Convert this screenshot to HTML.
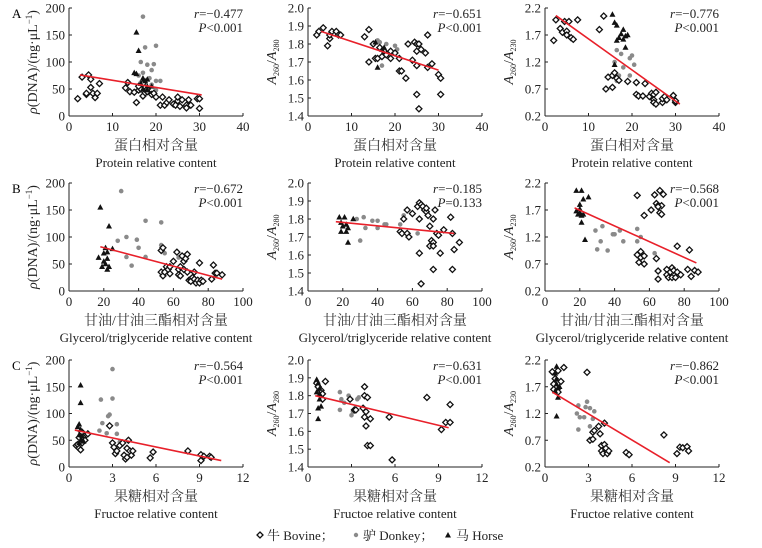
<!DOCTYPE html>
<html><head><meta charset="utf-8"><style>
body{margin:0;background:#fff}
svg{display:block;font-family:"Liberation Serif","Noto Serif CJK SC",serif}
</style></head><body>
<svg id="chart" width="762" height="548" viewBox="0 0 762 548"></svg>
<script>
// ---- data ----
const bovA1x=[2,3,4,4,4.5,5,5,5.5,6,6.5,7,13,13.5,14,15,15.5,16,16.5,17,17.5,18,19,19.5,20,21,21.5,22,22.5,23,24,24.5,25,25,25.5,26,27,27,27.5,28,29.5,30,30,16,17,18];
const bovA1y=[32,72,40,42,76,68,53,42,34,42,60,52,62,45,44,25,48,50,37,43,50,40,42,35,20,35,20,25,30,22,20,28,35,18,30,20,15,30,20,32,32,14,55,60,45];
const donA1x=[17,17.5,20,16.5,18,19.5,19,17,16,18.5,20,21,16.5,19,20];
const donA1y=[184,127,130,100,95,96,85,80,75,70,65,65,62,58,48];
const horA1x=[15.5,16,15,15.5,17,18,16.5,17.5,18,19,17,18];
const horA1y=[155,121,80,78,70,68,60,65,55,55,50,48];
const fitA1=[[2.5,76],[30.5,39]];

const bovA2x=[2,2.5,3.5,4.5,5,5,5.5,6.5,7,7.5,13,14,14,15,15.5,16,16.5,17,17.5,18,19,19,20,21,21,21.5,22.5,23,24,24.5,25,25,25,25,25.5,25.5,26,27,27.5,27.5,28.5,30,30.5,30.5];
const bovA2y=[1.85,1.87,1.89,1.79,1.83,1.85,1.87,1.87,1.85,1.85,1.84,1.88,1.70,1.8,1.72,1.72,1.78,1.73,1.76,1.74,1.72,1.76,1.75,1.65,1.72,1.65,1.61,1.80,1.71,1.81,1.80,1.76,1.68,1.52,1.44,1.8,1.77,1.75,1.85,1.67,1.69,1.63,1.61,1.52];
const donA2x=[16,16.5,17.5,18,20,20.5,17,19];
const donA2y=[1.82,1.81,1.77,1.8,1.79,1.77,1.68,1.76];
const horA2x=[15.5,16,17,17.5];
const horA2y=[1.81,1.67,1.77,1.78];
const fitA2=[[3,1.87],[30,1.655]];

const bovA3x=[2,2.5,3.5,4,4.5,5,5,5.5,6,6.5,7.5,12.5,13.5,14,14.5,15.5,15.5,16,16.5,17,19,21,21,21.5,22.5,23,24,24.5,25,25,25,25.5,25.5,27,27,27.5,28,29.5,30,30];
const bovA3y=[1.6,1.98,1.82,1.75,1.95,1.77,1.7,1.95,1.65,1.62,1.98,1.8,2.05,0.7,0.92,0.73,0.95,1.0,0.9,0.86,0.84,0.6,0.82,0.57,0.57,0.8,0.56,0.62,0.6,0.5,0.45,0.42,0.64,0.45,0.52,0.56,0.5,0.58,0.45,0.48];
const donA3x=[16.5,17.5,16,18,19.5,20,20.5,19.5,17,16.5];
const donA3y=[1.42,1.35,1.2,1.1,1.27,1.32,1.15,0.95,0.95,0.85];
const horA3x=[15.5,16,16.5,17,17.5,18,18,18.5,19,18.5,16,16.5];
const horA3y=[2.08,1.93,1.88,1.65,1.72,1.8,1.62,1.68,1.7,1.47,1.15,1.6];
const fitA3=[[2.5,2.06],[31,0.42]];

const bovB1x=[53,54,53,54,55,56,57,58,58,60,62,63,63,64,64,65,66,66,67,68,68,69,70,70,71,72,72,73,74,75,75,76,77,82,83,84,85,88];
const bovB1y=[75,80,35,28,35,45,40,45,32,55,72,40,30,28,45,65,55,40,60,68,35,20,22,18,25,35,22,15,20,52,15,20,18,22,48,33,33,30];
const donB1x=[30,44,53,28,33,39,40,53,55,33,44,36,63];
const donB1y=[185,130,127,93,100,95,80,85,70,63,63,47,62];
const horB1x=[18,23,17,21,22,25,19,20,21,22,23,20,22];
const horB1y=[155,120,62,80,72,78,45,55,50,40,45,70,60];
const fitB1=[[18,82],[88,22]];

const bovB2x=[53,54,55,57,57,58,60,63,64,64,64,65,65,66,67,68,68,69,70,70,71,72,72,72,72,73,74,75,76,78,82,83,83,84,87];
const bovB2y=[1.73,1.72,1.8,1.85,1.72,1.7,1.83,1.87,1.89,1.8,1.61,1.44,1.88,1.87,1.85,1.84,1.86,1.82,1.76,1.65,1.68,1.8,1.67,1.65,1.52,1.85,1.72,1.71,1.61,1.74,1.81,1.72,1.52,1.63,1.67];
const donB2x=[28,30,32,33,37,40,40,44,45,53,55,63];
const donB2y=[1.8,1.68,1.81,1.75,1.79,1.75,1.79,1.77,1.77,1.77,1.82,1.72];
const horB2x=[18,19,20,21,22,23,23,26,19,22];
const horB2y=[1.81,1.73,1.76,1.81,1.77,1.75,1.67,1.8,1.78,1.73];
const fitB2=[[16,1.785],[84,1.72]];

const bovB3x=[53,57,61,63,64,65,66,66,67,68,65,67,53,54,55,55,57,57,64,65,65,70,70,71,72,73,73,74,75,76,76,78,82,83,84,86,88];
const bovB3y=[1.97,1.6,1.7,1.98,1.82,1.78,2.06,1.65,1.78,1.99,1.76,1.62,0.87,0.73,0.93,0.82,0.7,0.85,0.8,0.57,0.42,0.6,0.5,0.45,0.55,0.63,0.45,0.58,0.45,0.55,1.03,0.5,0.6,0.96,0.47,0.58,0.55];
const donB3x=[29,33,30,32,36,39,40,43,45,53,53,55,63];
const donB3y=[1.32,1.4,0.97,1.12,0.95,1.25,1.25,1.32,1.12,1.35,1.12,1.2,0.9];
const horB3x=[18,21,22,25,20,18,19,20,21,22,21,23,20];
const horB3y=[2.06,2.06,1.9,1.94,1.8,1.68,1.62,1.65,1.6,1.62,1.47,1.15,1.72];
const fitB3=[[17,1.74],[87,0.72]];

const bovC1x=[0.5,0.6,0.7,0.8,0.9,1,1.1,1.3,0.7,0.9,2.8,3,3.1,3.2,3.3,3.5,3.7,3.8,3.9,4,4,4.1,4.2,4.3,4.4,5.6,5.8,8.2,9.1,9.1,9.3,9.7,9.8];
const bovC1y=[40,42,35,32,45,55,50,62,55,65,77,45,37,25,30,40,45,22,15,18,35,50,30,22,30,17,28,30,23,12,20,20,18];
const donC1x=[3,3,2.2,2.8,2.7,2.3,2.1,2.6,3.3,3.3,3.5];
const donC1y=[183,128,126,98,95,82,68,63,80,62,47];
const horC1x=[0.8,0.8,0.7,0.6,0.8,0.7,0.9,0.8,0.7,1];
const horC1y=[153,120,80,75,70,60,58,50,45,48];
const fitC1=[[0.4,69],[10.5,12]];

const bovC2x=[0.6,0.7,0.9,1,1.2,1,2.9,3.2,3.3,3.8,3.9,3.9,3.9,4,4,4.1,4.1,4.3,4.3,5.6,5.8,8.2,9.2,9.5,9.8,9.8];
const bovC2y=[1.87,1.85,1.83,1.81,1.88,1.78,1.78,1.72,1.72,1.73,1.85,1.8,1.68,1.71,1.63,1.79,1.52,1.52,1.67,1.68,1.44,1.79,1.61,1.65,1.65,1.75];
const donC2x=[2.2,2.3,2.2,2.5,2.8,2.9,3.0,3.1,3.4,3.5];
const donC2y=[1.82,1.78,1.72,1.76,1.8,1.78,1.69,1.71,1.78,1.79];
const horC2x=[0.6,0.7,0.8,0.8,0.7,0.9,0.7,0.8,0.6];
const horC2y=[1.89,1.87,1.84,1.78,1.73,1.74,1.67,1.81,1.82];
const fitC2=[[0.5,1.8],[9.7,1.62]];

const bovC3x=[0.5,0.6,0.7,0.9,1.3,1.1,0.6,0.9,2.9,3.1,3.3,3.3,3.4,3.7,3.8,3.9,3.9,4,4.1,4.1,4.2,4.3,4.4,5.6,5.8,8.2,9.1,9.3,9.5,9.8,9.9];
const bovC3y=[1.98,1.75,1.85,2.0,2.06,1.8,1.65,1.6,1.97,0.7,0.72,0.85,0.88,0.96,0.82,0.6,0.5,0.45,0.62,1.02,0.55,0.45,0.5,0.47,0.43,0.8,0.45,0.57,0.56,0.58,0.5];
const donC3x=[2.2,2.3,2.4,2.7,2.8,2.9,3.1,2.3,3.1,3.3,3.4];
const donC3y=[1.2,1.35,1.13,1.13,1.32,1.42,1.3,0.9,0.96,1.1,1.24];
const horC3x=[0.8,0.7,0.8,0.8,0.9,1,0.9,0.8,0.7];
const horC3y=[2.08,1.95,1.85,1.75,1.68,1.7,1.5,1.15,1.62];
const fitC3=[[0.5,1.6],[8.6,0.28]];

const xTicksProt=[0,10,20,30,40];
const xTicksGly=[0,20,40,60,80,100];
const xTicksFru=[0,3,6,9,12];
const yTicksDNA=[0,50,100,150,200];
const yTicks280=[1.4,1.5,1.6,1.7,1.8,1.9,2.0];
const yTicks230=[0.2,0.7,1.2,1.7,2.2];
const stats=[["−0.477","<0.001"],["−0.651","<0.001"],["−0.776","<0.001"],["−0.672","<0.001"],["−0.185","=0.133"],["−0.568","<0.001"],["−0.564","<0.001"],["−0.631","<0.001"],["−0.862","<0.001"]];

// ---- drawing ----
const svg=document.getElementById('chart');
const NS='http://www.w3.org/2000/svg';
function mk(tag,attrs,parent){const e=document.createElementNS(NS,tag);for(const k in attrs)e.setAttribute(k,attrs[k]);(parent||svg).appendChild(e);return e;}
const cols=[[69,243],[308,482],[545,719]];
const rows=[[8,116],[183,291],[360,467]];
const rowX=[[xTicksProt,"蛋白相对含量","Protein relative content"],[xTicksGly,"甘油/甘油三酯相对含量","Glycerol/triglyceride relative content"],[xTicksFru,"果糖相对含量","Fructoe relative content"]];
const colY=[[yTicksDNA,0],[yTicks280,0],[yTicks230,1]];
const fmtY=[v=>String(v),v=>v.toFixed(1),v=>v.toFixed(1)];
const panels=[
[bovA1x,bovA1y,donA1x,donA1y,horA1x,horA1y,fitA1],[bovA2x,bovA2y,donA2x,donA2y,horA2x,horA2y,fitA2],[bovA3x,bovA3y,donA3x,donA3y,horA3x,horA3y,fitA3],
[bovB1x,bovB1y,donB1x,donB1y,horB1x,horB1y,fitB1],[bovB2x,bovB2y,donB2x,donB2y,horB2x,horB2y,fitB2],[bovB3x,bovB3y,donB3x,donB3y,horB3x,horB3y,fitB3],
[bovC1x,bovC1y,donC1x,donC1y,horC1x,horC1y,fitC1],[bovC2x,bovC2y,donC2x,donC2y,horC2x,horC2y,fitC2],[bovC3x,bovC3y,donC3x,donC3y,horC3x,horC3y,fitC3]];
const letters=["A","B","C"];
for(let r=0;r<3;r++){
  const lt=mk('text',{x:12,y:rows[r][0]+10,'font-size':13});
  lt.textContent=letters[r];
  
  
  for(let c=0;c<3;c++){
    const [x0,x1]=cols[c],[y0,y1]=rows[r];
    const xt=rowX[r][0], yt=colY[c][0];
    const xmin=xt[0],xmax=xt[xt.length-1],ymin=yt[0],ymax=yt[yt.length-1];
    const sx=v=>x0+(v-xmin)/(xmax-xmin)*(x1-x0);
    const sy=v=>y1-(v-ymin)/(ymax-ymin)*(y1-y0);
    const g=mk('g',{});
    
    
    mk('line',{x1:x0,y1:y0,x2:x0,y2:y1,stroke:'#222','stroke-width':1},g);
    mk('line',{x1:x0,y1:y1,x2:x1,y2:y1,stroke:'#222','stroke-width':1},g);
    xt.forEach(v=>{mk('line',{x1:sx(v),y1:y1,x2:sx(v),y2:y1-3,stroke:'#222'},g);
      const t=mk('text',{x:sx(v),y:y1+15,'font-size':13,'text-anchor':'middle',fill:'#222'},g);t.textContent=v;
      
      });
    yt.forEach(v=>{mk('line',{x1:x0,y1:sy(v),x2:x0+3,y2:sy(v),stroke:'#222'},g);
      const t=mk('text',{x:x0-4,y:sy(v)+4.5,'font-size':13,'text-anchor':'end',fill:'#222'},g);t.textContent=fmtY[c](v);
      
      });
    const cx=(x0+x1)/2;
    const t1=mk('text',{x:cx,y:y1+34,'font-size':14,'text-anchor':'middle',fill:'#333'},g);t1.textContent=rowX[r][1];
    
    
    const t2=mk('text',{x:cx,y:y1+51,'font-size':13,'text-anchor':'middle',fill:'#222'},g);t2.textContent=rowX[r][2];
    
    
    const yl=mk('text',{transform:`translate(${x0-32},${(y0+y1)/2}) rotate(-90)`,'font-size':14,'text-anchor':'middle',fill:'#222'},g);
    
    
    if(c===0){yl.innerHTML='<tspan font-style="italic">ρ</tspan>(DNA)/(ng·μL<tspan font-size="9" dy="-5">−1</tspan><tspan dy="5">)</tspan>';}
    else{const s=c===1?'280':'230';yl.innerHTML=`<tspan font-style="italic">A</tspan><tspan font-size="8" dy="3">260</tspan><tspan dy="-3">/</tspan><tspan font-style="italic">A</tspan><tspan font-size="8" dy="3">${s}</tspan>`;}
    const st=stats[r*3+c];
    const s1=mk('text',{x:x1,y:y0+10,'font-size':13,'text-anchor':'end',fill:'#222'},g);
    s1.innerHTML=`<tspan font-style="italic">r</tspan>=${st[0]}`;
    
    
    const s2=mk('text',{x:x1,y:y0+24,'font-size':13,'text-anchor':'end',fill:'#222'},g);
    s2.innerHTML=`<tspan font-style="italic">P</tspan>${st[1]}`;
    
    
    const p=panels[r*3+c];
    p[2].forEach((v,i)=>{const e=mk('circle',{cx:sx(v),cy:sy(p[3][i]),r:2.3,fill:'#8a8a8a'},g);
      
      });
    p[0].forEach((v,i)=>{const X=sx(v),Y=sy(p[1][i]);const e=mk('path',{d:`M${X} ${Y-3}L${X+3} ${Y}L${X} ${Y+3}L${X-3} ${Y}Z`,fill:'#fff',stroke:'#111','stroke-width':1.3},g);
      
      });
    p[4].forEach((v,i)=>{const X=sx(v),Y=sy(p[5][i]);const e=mk('path',{d:`M${X} ${Y-3.2}L${X+3} ${Y+2.3}L${X-3} ${Y+2.3}Z`,fill:'#111'},g);
      
      });
    const f=p[6];
    const fl=mk('line',{x1:sx(f[0][0]),y1:sy(f[0][1]),x2:sx(f[1][0]),y2:sy(f[1][1]),stroke:'#e8202a','stroke-width':1.6},g);
    
    
  }
}
// legend
const lg=mk('g',{'font-size':13,fill:'#222'});


const m1=mk('path',{d:'M260 532L263 535L260 538L257 535Z',fill:'#fff',stroke:'#111','stroke-width':1.3},lg);


const l1=mk('text',{x:267,y:540},lg);l1.textContent='牛 Bovine；';


const m2=mk('circle',{cx:356,cy:535,r:2.2,fill:'#8a8a8a'},lg);


const l2=mk('text',{x:363,y:540},lg);l2.textContent='驴 Donkey；';


const m3=mk('path',{d:'M448 532L451 537.5L445 537.5Z',fill:'#111'},lg);


const l3=mk('text',{x:456,y:540},lg);l3.textContent='马 Horse';


</script>
</body></html>
